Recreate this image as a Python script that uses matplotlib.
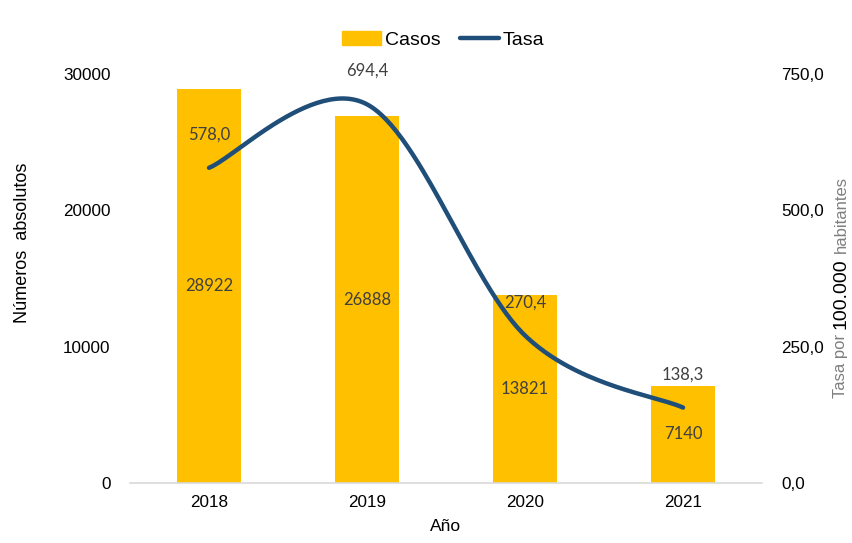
import matplotlib
matplotlib.use("Agg", force=True)
import matplotlib.pyplot as plt
import numpy as np
from matplotlib.patches import Patch
from matplotlib.lines import Line2D

years = ["2018", "2019", "2020", "2021"]
casos = [28922, 26888, 13821, 7140]
tasa = [578.0, 694.4, 270.4, 138.3]

BAR = "#FFC000"
LINE = "#1F4E79"
LABEL = "#404040"

plt.rcParams["font.family"] = ["Liberation Sans", "DejaVu Sans"]


def smooth(xs, ys, n=60):
    # Excel-style smoothed line: cubic Bezier with control points from neighbours
    pts = np.column_stack([xs, ys]).astype(float)
    out = []
    for i in range(len(pts) - 1):
        p0 = pts[i - 1] if i > 0 else pts[i]
        p1, p2 = pts[i], pts[i + 1]
        p3 = pts[i + 2] if i + 2 < len(pts) else pts[i + 1]
        c1 = p1 + (p2 - p0) / 6
        c2 = p2 - (p3 - p1) / 6
        t = np.linspace(0, 1, n)[:, None]
        seg = (1 - t) ** 3 * p1 + 3 * (1 - t) ** 2 * t * c1 + 3 * (1 - t) * t ** 2 * c2 + t ** 3 * p2
        out.append(seg if i == 0 else seg[1:])
    seg = np.vstack(out)
    return seg[:, 0], seg[:, 1]


fig = plt.figure(figsize=(8.52, 5.43), dpi=100)
ax = fig.add_axes([0.1526, 0.1105, 0.7418, 0.7532])
ax2 = ax.twinx()

x = np.arange(len(years))
ax.bar(x, casos, width=0.4, color=BAR, zorder=2)
ax.set_xlim(-0.5, 3.5)
ax.set_ylim(0, 30000)
ax.set_yticks([0, 10000, 20000, 30000])
ax.set_xticks(x, labels=years)
for xi, v in zip(x, casos):
    ax.text(xi, v / 2, str(v), ha="center", va="center", fontsize=12,
            color=LABEL, family=["Lato", "DejaVu Sans"])

sx, sy = smooth(x, tasa)
ax2.plot(sx, sy, color=LINE, lw=3.2, solid_capstyle="round", zorder=3)
ax2.set_ylim(0, 750)
ax2.set_yticks([0, 250, 500, 750])
ax2.set_yticklabels([f"{v:.1f}".replace(".", ",") for v in [0, 250, 500, 750]])
for xi, v in zip(x, tasa):
    ax2.annotate(f"{v:.1f}".replace(".", ","), (xi, v), xytext=(0, 24), textcoords="offset points",
                 ha="center", va="center", fontsize=12, color=LABEL, family=["Lato", "DejaVu Sans"])

for a in (ax, ax2):
    for s in a.spines.values():
        s.set_visible(False)
    a.tick_params(length=0, labelsize=12.3, colors="black")
ax.spines["bottom"].set_visible(True)
ax.spines["bottom"].set_color("#D9D9D9")
ax.spines["bottom"].set_linewidth(1.2)
ax.tick_params(axis="y", pad=14)
ax.tick_params(axis="x", pad=9)
ax2.tick_params(axis="y", pad=14)

ax.set_xlabel("Año", fontsize=12.5, labelpad=6)
fig.text(0.026, 1 - 243 / 543, "Números  absolutos", rotation=90, ha="center", va="center", fontsize=13)

# right axis title in three pieces, stacked bottom to top
grey = "#7F7F7F"
renderer = fig.canvas.get_renderer()
ypix = 543 - 398
for txt, size, col in [("Tasa por", 12, grey), ("100.000", 14, "black"), ("habitantes", 12, grey)]:
    t = fig.text(841 / 852, ypix / 543, txt, rotation=90, ha="center", va="bottom",
                 fontsize=size, color=col)
    ypix = t.get_window_extent(renderer).y1 + 5

handles = [Patch(color=BAR, label="Casos"),
           Line2D([0], [0], color=LINE, lw=3.2, solid_capstyle="round", label="Tasa")]
fig.legend(handles=handles, loc="center", bbox_to_anchor=(0.52, 0.926), ncol=2, frameon=False,
           fontsize=14, handlelength=2.0, handletextpad=0.2, columnspacing=1.0)

fig.savefig("out.png", dpi=100)
